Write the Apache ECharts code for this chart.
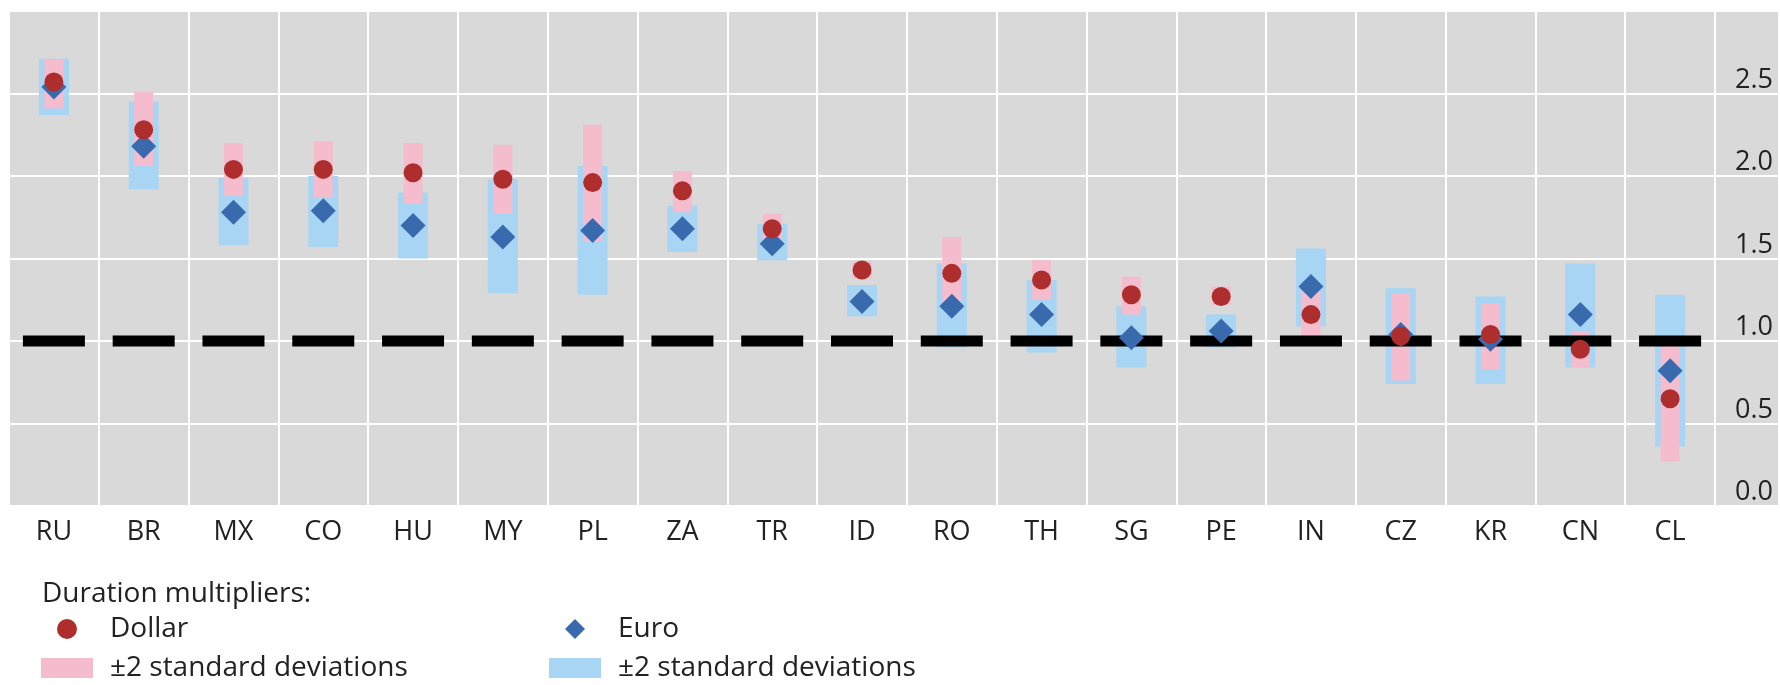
<!DOCTYPE html>
<html>
<head>
<meta charset="utf-8">
<script src="https://cdn.jsdelivr.net/npm/echarts@6/dist/echarts.min.js"></script>
<style>
  html, body { margin: 0; padding: 0; background: #fff; }
  #chart { width: 1780px; height: 685px; }
</style>
</head>
<body>
<div id="chart"></div>
<script>
// countries, left to right
var categories = ['RU', 'BR', 'MX', 'CO', 'HU', 'MY', 'PL', 'ZA', 'TR', 'ID', 'RO', 'TH', 'SG', 'PE', 'IN', 'CZ', 'KR', 'CN', 'CL'];

// dollar duration multiplier and its +-2 sd band
var dollar   = [2.57, 2.28, 2.04, 2.04, 2.02, 1.98, 1.96, 1.91, 1.68, 1.43, 1.41, 1.37, 1.28, 1.27, 1.16, 1.03, 1.04, 0.95, 0.65];
var dollarLo = [2.41, 2.06, 1.88, 1.87, 1.83, 1.77, 1.60, 1.78, 1.61, 1.38, 1.24, 1.25, 1.16, 1.22, 1.01, 0.76, 0.83, 0.84, 0.27];
var dollarHi = [2.71, 2.51, 2.20, 2.21, 2.20, 2.19, 2.31, 2.03, 1.77, 1.48, 1.63, 1.49, 1.39, 1.33, 1.31, 1.29, 1.23, 1.06, 1.01];

// euro duration multiplier and its +-2 sd band
var euro   = [2.54, 2.18, 1.78, 1.79, 1.70, 1.63, 1.67, 1.68, 1.59, 1.24, 1.21, 1.16, 1.02, 1.06, 1.33, 1.04, 1.01, 1.16, 0.82];
var euroLo = [2.37, 1.92, 1.58, 1.57, 1.50, 1.29, 1.28, 1.54, 1.49, 1.15, 0.96, 0.93, 0.84, 0.96, 1.09, 0.74, 0.74, 0.84, 0.36];
var euroHi = [2.71, 2.45, 1.99, 2.00, 1.90, 1.98, 2.06, 1.82, 1.71, 1.34, 1.47, 1.37, 1.21, 1.16, 1.56, 1.32, 1.27, 1.47, 1.28];

// reference level (multiplier = 1)
var refLevel = 1.0;

// y axis ticks
var yMin = 0;
var yMax = 3;
var yStep = 0.5;

var FONT = 'Open Sans';
var TEXT = '#222';
var GRID_BG = '#d9d9d9';
var DIAMOND = 'path://M0,-1L1,0L0,1L-1,0Z';

var chart = echarts.init(document.getElementById('chart'));

// rectangle from lo to hi for each category
function bandItem(width) {
  return function (params, api) {
    var hi = api.coord([api.value(0), api.value(2)]);
    var lo = api.coord([api.value(0), api.value(1)]);
    return {
      type: 'rect',
      shape: { x: hi[0] - width / 2, y: hi[1], width: width, height: lo[1] - hi[1] },
      style: { fill: api.visual('color') }
    };
  };
}

var dollarBand = categories.map(function (c, i) { return [i, dollarLo[i], dollarHi[i]]; });
var euroBand = categories.map(function (c, i) { return [i, euroLo[i], euroHi[i]]; });
var refData = categories.map(function () { return refLevel; });

function legendName(name) {
  return name.indexOf('band') > -1 ? '±2 standard deviations' : name;
}

var legendBase = {
  orient: 'vertical',
  top: 615,
  padding: 0,
  itemWidth: 52,
  itemHeight: 20,
  itemGap: 11,
  symbolKeepAspect: true,
  selectedMode: false,
  formatter: legendName,
  textStyle: { fontFamily: FONT, fontSize: 28, color: TEXT, padding: [0, 0, 0, 12] }
};

var option = {
  animation: false,
  textStyle: { fontFamily: FONT },
  title: {
    text: 'Duration multipliers:',
    left: 42,
    top: 580,
    padding: 0,
    textStyle: { fontFamily: FONT, fontSize: 28, fontWeight: 'normal', color: TEXT }
  },
  legend: [
    Object.assign({}, legendBase, {
      left: 41,
      data: [{ name: 'Dollar', icon: 'circle' }, { name: 'Dollar band', icon: 'rect' }]
    }),
    Object.assign({}, legendBase, {
      left: 549,
      data: [{ name: 'Euro', icon: DIAMOND }, { name: 'Euro band', icon: 'rect' }]
    })
  ],
  grid: [
    { left: 9, top: 11, width: 1706, height: 495, show: true, backgroundColor: GRID_BG, borderWidth: 0 },
    // strip on the right that carries the y labels
    { left: 1715, top: 11, width: 63, height: 495, show: true, backgroundColor: GRID_BG, borderWidth: 0 }
  ],
  xAxis: [
    {
      type: 'category',
      gridIndex: 0,
      data: categories,
      axisLine: { show: false },
      axisTick: { show: false },
      splitLine: { show: true, lineStyle: { color: '#fff', width: 2 } },
      axisLabel: { interval: 0, margin: 13, fontFamily: FONT, fontSize: 27, color: TEXT }
    },
    { type: 'value', gridIndex: 1, min: 0, max: 1, show: false }
  ],
  yAxis: [
    {
      type: 'value',
      gridIndex: 0,
      min: yMin,
      max: yMax,
      interval: yStep,
      axisLine: { show: false },
      axisTick: { show: false },
      axisLabel: { show: false },
      splitLine: { lineStyle: { color: '#fff', width: 2 } }
    },
    {
      type: 'value',
      gridIndex: 1,
      position: 'right',
      min: yMin,
      max: yMax,
      interval: yStep,
      axisLine: { show: false },
      axisTick: { show: false },
      splitLine: { lineStyle: { color: '#fff', width: 2 } },
      axisLabel: {
        inside: true,
        margin: 5,
        verticalAlign: 'bottom',
        showMaxLabel: false,
        fontFamily: FONT,
        fontSize: 27,
        color: TEXT,
        formatter: function (v) { return v.toFixed(1); }
      }
    }
  ],
  series: [
    {
      name: 'ref',
      type: 'scatter',
      data: refData,
      symbol: 'rect',
      symbolSize: [62, 11],
      itemStyle: { color: '#000', opacity: 1 },
      silent: true
    },
    {
      name: 'Euro band',
      type: 'custom',
      data: euroBand,
      encode: { x: 0, y: [1, 2] },
      renderItem: bandItem(30),
      itemStyle: { color: '#a7d5f3' }
    },
    {
      name: 'Dollar band',
      type: 'custom',
      data: dollarBand,
      encode: { x: 0, y: [1, 2] },
      renderItem: bandItem(19),
      itemStyle: { color: '#f5bccd' }
    },
    {
      name: 'Euro',
      type: 'scatter',
      data: euro,
      symbol: 'diamond',
      symbolSize: 25,
      itemStyle: { color: '#3a6aae', opacity: 1 }
    },
    {
      name: 'Dollar',
      type: 'scatter',
      data: dollar,
      symbol: 'circle',
      symbolSize: 19,
      itemStyle: { color: '#ae2d2d', opacity: 1 }
    }
  ]
};

chart.setOption(option);
</script>
</body>
</html>
